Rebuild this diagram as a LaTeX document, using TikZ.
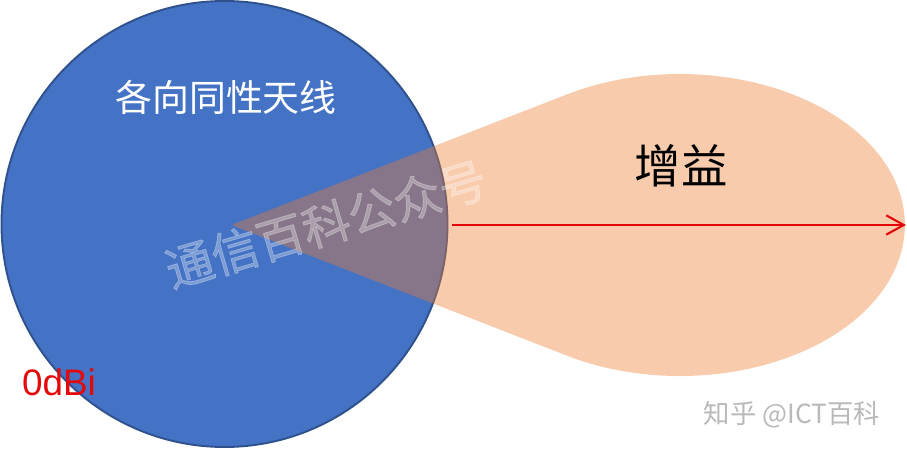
\documentclass[tikz,border=0pt]{standalone}
\usepackage{fontspec}
\setmainfont{Liberation Sans}
\newfontfamily\cjk{Noto Sans CJK SC}
\newfontfamily\cjkwm[FakeBold=1.6]{Noto Sans CJK SC}
\usetikzlibrary{arrows.meta}
\definecolor{circfill}{RGB}{68,114,196}
\definecolor{circedge}{RGB}{47,82,143}
\definecolor{lobecol}{RGB}{237,125,49}
\definecolor{arrred}{RGB}{228,8,10}
\definecolor{wmgrey}{RGB}{185,185,185}
\tikzset{
  iso/.style={draw=circedge, line width=1.1pt, fill=circfill},
  lobe/.style={fill=lobecol, fill opacity=0.4},
  gainarrow/.style={draw=arrred, line width=1.2pt, -{Straight Barb[length=10pt, width=11pt, line width=1.2pt]}},
  lbl/.style={inner sep=0pt, outer sep=0pt}
}
\begin{document}
\begin{tikzpicture}[x=0.02cm, y=0.02cm]
\useasboundingbox (0,0) rectangle (907,454);
% isotropic circle
\path[iso] (224.5,230) circle[radius=223];
% gain lobe
\path[lobe] (567,359.6) arc[start angle=120.1, end angle=-120.1, x radius=225, y radius=151]
  -- (241.5,225.1) .. controls (230,229) .. (241.5,232.9) -- cycle;
% gain arrow
\coordinate (arrS) at (452,229);
\coordinate (arrE) at (906,229);
\draw[gainarrow] (arrS) -- (arrE);
% labels
\node[lbl, text=white, font=\cjk\fontsize{21}{24}\selectfont] (iso) at (226,357) {各向同性天线};
\node[lbl, text=black, font=\cjk\fontsize{26.4}{30}\selectfont] (gain) at (681,288) {增益};
\node[lbl, text=arrred, font=\fontsize{21}{24}\selectfont, anchor=base west] (dbi) at (22,59) {0dBi};
% watermarks
\node[lbl, text=white, text opacity=0.3, rotate=16.4, font=\cjkwm\fontsize{27}{30}\selectfont] (wm) at (326,230) {通信百科公众号};
\node[lbl, text=wmgrey, font=\cjk\fontsize{15}{17}\selectfont] (zh) at (792,39) {知乎 @ICT百科};
\end{tikzpicture}
\end{document}
